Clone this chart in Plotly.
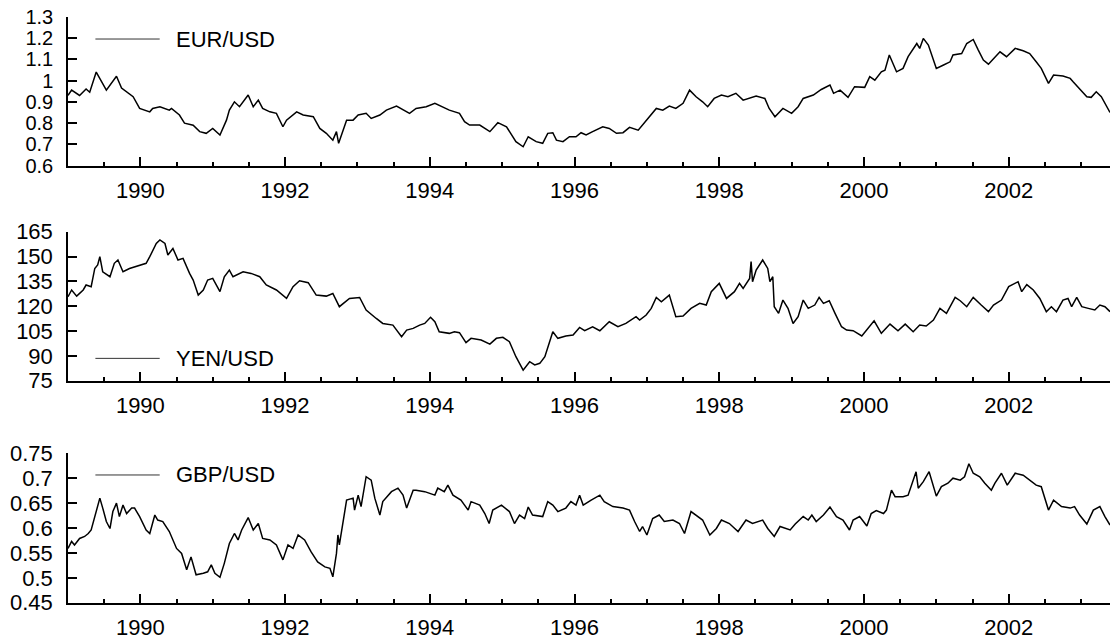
import plotly.graph_objects as go

# ---------------- data (decimal years) ----------------
eur_t = [1989.00, 1989.05, 1989.16, 1989.25, 1989.30, 1989.39, 1989.53, 1989.67, 1989.74, 1989.81,
         1989.90, 1989.99, 1990.13, 1990.17, 1990.27, 1990.40, 1990.43, 1990.54, 1990.61, 1990.73,
         1990.82, 1990.91, 1991.00, 1991.10, 1991.19, 1991.23, 1991.30, 1991.37, 1991.49, 1991.56,
         1991.63, 1991.69, 1991.79, 1991.88, 1991.97, 1992.02, 1992.16, 1992.25, 1992.39, 1992.48,
         1992.57, 1992.66, 1992.71, 1992.74, 1992.85, 1992.94, 1993.01, 1993.12, 1993.19, 1993.31,
         1993.40, 1993.54, 1993.68, 1993.72, 1993.81, 1993.95, 1994.07, 1994.18, 1994.27, 1994.41,
         1994.48, 1994.55, 1994.69, 1994.83, 1994.94, 1995.06, 1995.15, 1995.19, 1995.29, 1995.36,
         1995.47, 1995.56, 1995.63, 1995.70, 1995.75, 1995.84, 1995.93, 1996.02, 1996.09, 1996.16,
         1996.25, 1996.39, 1996.48, 1996.58, 1996.67, 1996.76, 1996.88, 1996.94, 1997.04, 1997.13,
         1997.22, 1997.31, 1997.40, 1997.50, 1997.59, 1997.68, 1997.77, 1997.84, 1997.93, 1998.03,
         1998.12, 1998.23, 1998.33, 1998.42, 1998.51, 1998.63, 1998.69, 1998.77, 1998.88, 1999.00,
         1999.09, 1999.16, 1999.30, 1999.41, 1999.53, 1999.58, 1999.67, 1999.78, 1999.87, 2000.01,
         2000.08, 2000.15, 2000.24, 2000.29, 2000.35, 2000.45, 2000.54, 2000.61, 2000.73, 2000.77,
         2000.82, 2000.89, 2000.93, 2001.00, 2001.10, 2001.19, 2001.23, 2001.35, 2001.42, 2001.51,
         2001.58, 2001.65, 2001.72, 2001.79, 2001.88, 2001.97, 2002.02, 2002.09, 2002.20, 2002.29,
         2002.38, 2002.45, 2002.55, 2002.62, 2002.75, 2002.85, 2002.89, 2002.98, 2003.08, 2003.14,
         2003.21, 2003.28, 2003.33, 2003.40]
eur_v = [0.930, 0.955, 0.930, 0.960, 0.945, 1.040, 0.955, 1.020, 0.965, 0.947,
         0.924, 0.869, 0.853, 0.869, 0.877, 0.861, 0.869, 0.838, 0.800, 0.790,
         0.760, 0.752, 0.775, 0.744, 0.814, 0.861, 0.900, 0.877, 0.932, 0.877,
         0.908, 0.869, 0.853, 0.846, 0.783, 0.814, 0.853, 0.838, 0.830, 0.775,
         0.752, 0.720, 0.760, 0.705, 0.814, 0.814, 0.838, 0.846, 0.822, 0.838,
         0.861, 0.880, 0.853, 0.846, 0.869, 0.877, 0.893, 0.877, 0.861, 0.846,
         0.807, 0.791, 0.791, 0.760, 0.802, 0.783, 0.736, 0.713, 0.689, 0.736,
         0.713, 0.705, 0.752, 0.755, 0.720, 0.713, 0.736, 0.736, 0.755, 0.744,
         0.760, 0.783, 0.775, 0.752, 0.755, 0.780, 0.767, 0.791, 0.830, 0.869,
         0.861, 0.880, 0.869, 0.893, 0.955, 0.924, 0.900, 0.877, 0.916, 0.932,
         0.924, 0.940, 0.908, 0.916, 0.927, 0.916, 0.869, 0.830, 0.869, 0.846,
         0.877, 0.916, 0.932, 0.958, 0.979, 0.940, 0.955, 0.921, 0.971, 0.968,
         1.018, 1.002, 1.041, 1.049, 1.120, 1.041, 1.057, 1.112, 1.174, 1.151,
         1.198, 1.167, 1.127, 1.057, 1.073, 1.088, 1.120, 1.127, 1.174, 1.193,
         1.143, 1.096, 1.077, 1.104, 1.135, 1.112, 1.127, 1.151, 1.140, 1.127,
         1.088, 1.057, 0.987, 1.026, 1.021, 1.010, 0.994, 0.963, 0.924, 0.921,
         0.947, 0.924, 0.893, 0.850]

yen_t = [1989.00, 1989.05, 1989.12, 1989.21, 1989.25, 1989.32, 1989.37, 1989.41, 1989.44, 1989.48,
         1989.58, 1989.64, 1989.69, 1989.76, 1989.85, 1989.99, 1990.08, 1990.13, 1990.22, 1990.27,
         1990.34, 1990.38, 1990.45, 1990.52, 1990.59, 1990.68, 1990.73, 1990.80, 1990.87, 1990.93,
         1991.00, 1991.10, 1991.16, 1991.23, 1991.28, 1991.42, 1991.53, 1991.65, 1991.74, 1991.88,
         1992.02, 1992.11, 1992.20, 1992.32, 1992.43, 1992.57, 1992.66, 1992.75, 1992.89, 1993.03,
         1993.12, 1993.26, 1993.35, 1993.49, 1993.61, 1993.68, 1993.77, 1993.86, 1993.93, 1994.01,
         1994.07, 1994.13, 1994.27, 1994.34, 1994.41, 1994.50, 1994.57, 1994.71, 1994.83, 1994.92,
         1995.01, 1995.10, 1995.19, 1995.29, 1995.38, 1995.45, 1995.52, 1995.59, 1995.65, 1995.70,
         1995.77, 1995.88, 1995.98, 1996.07, 1996.14, 1996.25, 1996.35, 1996.48, 1996.60, 1996.71,
         1996.85, 1996.90, 1996.99, 1997.06, 1997.13, 1997.20, 1997.31, 1997.36, 1997.40, 1997.50,
         1997.61, 1997.73, 1997.82, 1997.89, 1998.00, 1998.10, 1998.21, 1998.28, 1998.33, 1998.42,
         1998.44, 1998.46, 1998.51, 1998.60, 1998.67, 1998.70, 1998.74, 1998.76, 1998.82, 1998.88,
         1998.95, 1999.02, 1999.09, 1999.16, 1999.23, 1999.32, 1999.38, 1999.44, 1999.52, 1999.60,
         1999.69, 1999.76, 1999.85, 1999.97, 2000.06, 2000.14, 2000.24, 2000.36, 2000.47, 2000.57,
         2000.68, 2000.77, 2000.86, 2000.96, 2001.05, 2001.14, 2001.26, 2001.33, 2001.42, 2001.51,
         2001.62, 2001.72, 2001.79, 2001.90, 2002.00, 2002.13, 2002.18, 2002.25, 2002.34, 2002.43,
         2002.52, 2002.59, 2002.66, 2002.75, 2002.82, 2002.87, 2002.94, 2003.01, 2003.10, 2003.19,
         2003.26, 2003.33, 2003.40]
yen_v = [125.7, 129.8, 126.1, 129.8, 132.8, 131.8, 142.8, 144.9, 149.9, 140.8,
         137.8, 145.9, 147.9, 140.8, 142.8, 144.9, 145.9, 149.9, 157.9, 160.0,
         157.9, 150.9, 154.9, 147.9, 148.9, 139.8, 135.8, 126.7, 129.8, 135.8,
         136.8, 128.8, 137.8, 141.8, 137.8, 140.8, 139.8, 137.8, 132.8, 129.8,
         124.7, 131.8, 135.4, 134.2, 126.7, 126.1, 127.7, 119.7, 124.7, 125.3,
         117.7, 112.6, 109.6, 108.6, 101.6, 105.6, 106.6, 108.6, 109.6, 113.3,
         110.6, 104.6, 103.6, 104.6, 104.0, 98.0, 100.6, 99.6, 97.1, 100.6,
         101.2, 98.6, 89.5, 81.4, 86.5, 84.5, 85.5, 89.5, 98.6, 104.6,
         100.6, 102.0, 102.6, 107.2, 105.2, 107.6, 105.2, 110.6, 107.6, 109.6,
         113.7, 111.6, 114.7, 118.7, 125.3, 122.7, 126.7, 118.7, 113.7, 114.1,
         118.7, 121.7, 120.7, 128.8, 133.8, 124.7, 128.8, 133.8, 130.8, 136.8,
         146.9, 134.8, 141.8, 147.9, 142.8, 134.8, 137.8, 119.7, 115.7, 123.7,
         118.7, 109.6, 113.7, 123.7, 118.7, 120.7, 125.3, 121.7, 123.3, 115.7,
         107.6, 105.6, 105.2, 102.0, 106.6, 111.2, 103.6, 109.2, 105.2, 109.2,
         104.6, 108.6, 108.0, 111.6, 118.7, 115.7, 125.3, 123.3, 119.7, 125.3,
         120.7, 116.7, 120.7, 123.7, 131.8, 134.8, 128.8, 133.0, 129.8, 124.7,
         116.7, 119.7, 116.7, 123.7, 124.7, 119.7, 125.3, 119.7, 118.7, 117.7,
         120.7, 119.7, 116.7]

gbp_t = [1989.00, 1989.05, 1989.09, 1989.16, 1989.23, 1989.28, 1989.32, 1989.37, 1989.41, 1989.44,
         1989.48, 1989.53, 1989.58, 1989.62, 1989.67, 1989.71, 1989.76, 1989.81, 1989.88, 1989.92,
         1989.99, 1990.08, 1990.13, 1990.20, 1990.24, 1990.31, 1990.40, 1990.50, 1990.57, 1990.64,
         1990.70, 1990.77, 1990.87, 1990.93, 1990.98, 1991.03, 1991.10, 1991.16, 1991.23, 1991.30,
         1991.35, 1991.40, 1991.49, 1991.56, 1991.63, 1991.69, 1991.79, 1991.88, 1991.97, 1992.04,
         1992.11, 1992.18, 1992.27, 1992.36, 1992.45, 1992.55, 1992.62, 1992.66, 1992.71, 1992.73,
         1992.75, 1992.80, 1992.85, 1992.94, 1992.96, 1993.01, 1993.05, 1993.12, 1993.19, 1993.24,
         1993.31, 1993.35, 1993.47, 1993.56, 1993.63, 1993.68, 1993.77, 1993.81, 1993.93, 1994.07,
         1994.11, 1994.20, 1994.25, 1994.32, 1994.43, 1994.53, 1994.57, 1994.69, 1994.76, 1994.82,
         1994.87, 1994.99, 1995.10, 1995.17, 1995.24, 1995.31, 1995.36, 1995.42, 1995.56, 1995.63,
         1995.70, 1995.77, 1995.88, 1995.95, 1996.02, 1996.07, 1996.12, 1996.23, 1996.35, 1996.41,
         1996.53, 1996.67, 1996.76, 1996.83, 1996.90, 1996.94, 1997.00, 1997.08, 1997.17, 1997.24,
         1997.36, 1997.45, 1997.52, 1997.61, 1997.68, 1997.77, 1997.87, 1997.96, 1998.03, 1998.14,
         1998.26, 1998.37, 1998.46, 1998.60, 1998.67, 1998.76, 1998.84, 1998.98, 1999.05, 1999.16,
         1999.23, 1999.28, 1999.34, 1999.44, 1999.53, 1999.62, 1999.71, 1999.80, 1999.85, 1999.94,
         2000.04, 2000.10, 2000.17, 2000.27, 2000.31, 2000.38, 2000.43, 2000.54, 2000.61, 2000.68,
         2000.72, 2000.75, 2000.82, 2000.90, 2000.96, 2001.00, 2001.07, 2001.16, 2001.23, 2001.33,
         2001.39, 2001.45, 2001.51, 2001.60, 2001.67, 2001.76, 2001.81, 2001.90, 2001.98, 2002.09,
         2002.20, 2002.29, 2002.38, 2002.45, 2002.55, 2002.62, 2002.73, 2002.85, 2002.91, 2002.98,
         2003.08, 2003.17, 2003.26, 2003.33, 2003.40]
gbp_v = [0.559, 0.573, 0.566, 0.579, 0.583, 0.589, 0.596, 0.623, 0.640, 0.660,
         0.640, 0.613, 0.599, 0.633, 0.650, 0.623, 0.646, 0.629, 0.640, 0.640,
         0.623, 0.596, 0.589, 0.626, 0.616, 0.613, 0.593, 0.559, 0.549, 0.516,
         0.542, 0.506, 0.509, 0.512, 0.526, 0.509, 0.501, 0.529, 0.569, 0.589,
         0.576, 0.596, 0.621, 0.596, 0.609, 0.579, 0.576, 0.566, 0.536, 0.566,
         0.559, 0.586, 0.576, 0.552, 0.532, 0.522, 0.519, 0.502, 0.549, 0.586,
         0.566, 0.616, 0.656, 0.660, 0.636, 0.666, 0.643, 0.703, 0.696, 0.660,
         0.626, 0.653, 0.673, 0.680, 0.666, 0.640, 0.676, 0.676, 0.673, 0.666,
         0.680, 0.673, 0.686, 0.666, 0.656, 0.636, 0.653, 0.646, 0.629, 0.609,
         0.636, 0.646, 0.633, 0.609, 0.626, 0.619, 0.642, 0.626, 0.623, 0.653,
         0.646, 0.633, 0.640, 0.653, 0.646, 0.666, 0.646, 0.656, 0.666, 0.653,
         0.643, 0.640, 0.636, 0.613, 0.593, 0.603, 0.586, 0.619, 0.626, 0.613,
         0.616, 0.609, 0.589, 0.633, 0.626, 0.616, 0.586, 0.599, 0.616, 0.609,
         0.593, 0.616, 0.609, 0.616, 0.599, 0.583, 0.603, 0.596, 0.608, 0.623,
         0.616, 0.626, 0.613, 0.626, 0.642, 0.623, 0.616, 0.596, 0.616, 0.623,
         0.604, 0.629, 0.635, 0.629, 0.636, 0.676, 0.663, 0.663, 0.666, 0.696,
         0.713, 0.680, 0.693, 0.713, 0.686, 0.664, 0.683, 0.690, 0.700, 0.696,
         0.703, 0.729, 0.710, 0.703, 0.690, 0.676, 0.690, 0.710, 0.686, 0.710,
         0.706, 0.696, 0.686, 0.683, 0.636, 0.656, 0.643, 0.640, 0.643, 0.626,
         0.608, 0.636, 0.643, 0.623, 0.606]

series_names = ["EUR/USD", "YEN/USD", "GBP/USD"]
year_ticks = [1990, 1992, 1994, 1996, 1998, 2000, 2002]
eur_ticks = [0.6, 0.7, 0.8, 0.9, 1.0, 1.1, 1.2, 1.3]
eur_ticktext = ["0.6", "0.7", "0.8", "0.9", "1", "1.1", "1.2", "1.3"]
yen_ticks = [75, 90, 105, 120, 135, 150, 165]
gbp_ticks = [0.45, 0.5, 0.55, 0.6, 0.65, 0.7, 0.75]
gbp_ticktext = ["0.45", "0.5", "0.55", "0.6", "0.65", "0.7", "0.75"]

# ---------------- figure ----------------
FONT = "Liberation Sans, Arial, Helvetica, sans-serif"
FS = 22
W, H = 1110, 639

fig = go.Figure()
data = [(eur_t, eur_v), (yen_t, yen_v), (gbp_t, gbp_v)]
for i, (t, v) in enumerate(data):
    sfx = "" if i == 0 else str(i + 1)
    fig.add_trace(go.Scatter(x=t, y=v, mode="lines", name=series_names[i],
                             line=dict(color="black", width=1.5),
                             xaxis="x" + sfx, yaxis="y" + sfx, showlegend=False))

y_domains = [[0.7407, 0.9739], [0.4042, 0.6374], [0.0568, 0.2906]]
y_ranges = [[0.6, 1.3], [75, 165], [0.45, 0.75]]
y_tickvals = [eur_ticks, yen_ticks, gbp_ticks]
y_ticktexts = [eur_ticktext, [str(v) for v in yen_ticks], gbp_ticktext]
y_tickfs = [20, FS, FS]   # top panel has tightly packed labels

layout = dict(template="none", width=W, height=H, margin=dict(l=68, r=0, t=0, b=0, pad=0),
              paper_bgcolor="white", plot_bgcolor="white", showlegend=False,
              font=dict(family=FONT, size=FS, color="black"))

for i in range(3):
    sfx = "" if i == 0 else str(i + 1)
    layout["xaxis" + sfx] = dict(
        domain=[0, 1], anchor="y" + sfx, range=[1989.0, 2003.4], automargin=False,
        tickvals=year_ticks, ticktext=[str(y) for y in year_ticks],
        ticks="inside", ticklen=9, tickwidth=1.5, tickcolor="black",
        minor=dict(dtick=0.5, tick0=1989, ticks="inside", ticklen=4, tickwidth=1.5,
                   tickcolor="black", showgrid=False),
        showline=True, linecolor="black", linewidth=2, showgrid=False, zeroline=False,
        ticklabelstandoff=4, tickfont=dict(family=FONT, size=FS, color="black"))
    layout["yaxis" + sfx] = dict(
        domain=y_domains[i], anchor="x" + sfx, range=y_ranges[i], automargin=False,
        tickvals=y_tickvals[i], ticktext=y_ticktexts[i],
        ticks="inside", ticklen=9, tickwidth=1.5, tickcolor="black",
        showline=True, linecolor="black", linewidth=1.5, showgrid=False, zeroline=False,
        ticklabelstandoff=9, tickfont=dict(family=FONT, size=y_tickfs[i], color="black"))

fig.update_layout(**layout)

# legend-like keys (line sample + label) inside each panel
legend_y = [0.85, 0.15, 0.855]
for i in range(3):
    sfx = "" if i == 0 else str(i + 1)
    fig.add_shape(type="line", xref="x" + sfx + " domain", yref="y" + sfx + " domain",
                  x0=0.0263, x1=0.088, y0=legend_y[i], y1=legend_y[i],
                  line=dict(color="#333333", width=1))
    fig.add_annotation(xref="x" + sfx + " domain", yref="y" + sfx + " domain",
                       x=0.1015, y=legend_y[i], text=series_names[i], showarrow=False,
                       xanchor="left", yanchor="middle",
                       font=dict(family=FONT, size=FS, color="black"))

fig.write_html("out.html", config={"displayModeBar": False},
               post_script="document.body.style.margin='0';document.body.style.padding='0';"
                           "document.documentElement.style.overflow='hidden';")
